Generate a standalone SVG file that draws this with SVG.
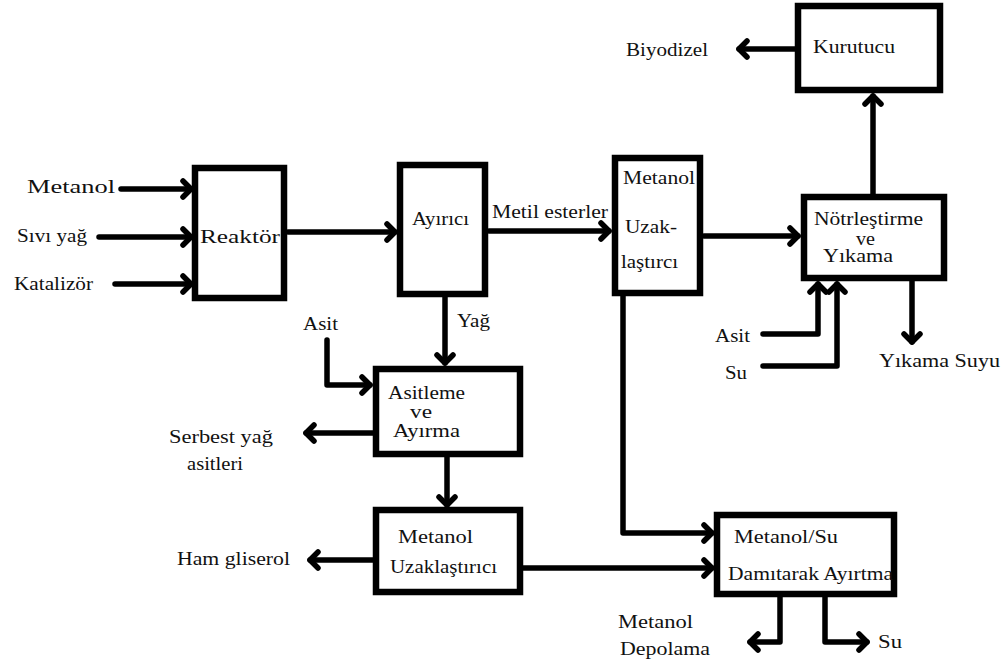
<svg xmlns="http://www.w3.org/2000/svg" width="1005" height="666" viewBox="0 0 1005 666" font-family="'Liberation Serif', 'DejaVu Serif', serif">
<style>
text{font-family:'Liberation Serif','DejaVu Serif',serif;font-size:19px;fill:#111}
.box{fill:#fff;stroke:#000;stroke-width:6.5}
.ln{fill:none;stroke:#000;stroke-width:5.5;stroke-linecap:round;stroke-linejoin:round}
.ar{marker-end:url(#a)}
</style>
<defs>
<marker id="a" markerUnits="userSpaceOnUse" markerWidth="30" markerHeight="30" viewBox="-15 -15 30 30" refX="0" refY="0" orient="auto" overflow="visible">
<path d="M-8,-8 L0,0 L-8,8" fill="none" stroke="#000" stroke-width="5.5" stroke-linecap="round" stroke-linejoin="round"/>
</marker>
</defs>
<rect width="1005" height="666" fill="#fff"/>
<g id="connectors">
<path class="ln ar" d="M121,189 H191"/>
<path class="ln ar" d="M99,237 H191"/>
<path class="ln ar" d="M115,284 H191"/>
<path class="ln ar" d="M288,232 H395"/>
<path class="ln ar" d="M489,231 H609"/>
<path class="ln ar" d="M704,236 H798"/>
<path class="ln ar" d="M873,194 V96"/>
<path class="ln ar" d="M795,49 H739"/>
<path class="ln ar" d="M763,334 H818 V284"/>
<path class="ln ar" d="M763,366 H837 V284"/>
<path class="ln ar" d="M912,281 V342"/>
<path class="ln ar" d="M623,296 V533 H712"/>
<path class="ln ar" d="M445,297 V363"/>
<path class="ln ar" d="M327,340 V385 H370"/>
<path class="ln ar" d="M373,433 H306"/>
<path class="ln ar" d="M447,457 V505"/>
<path class="ln ar" d="M373,560 H310"/>
<path class="ln ar" d="M523,568 H712"/>
<path class="ln ar" d="M780,597 V642 H750"/>
<path class="ln ar" d="M825,597 V642 H867"/>
</g>
<g id="inputs">
<text x="27" y="193" textLength="88" lengthAdjust="spacingAndGlyphs">Metanol</text>
<text x="17" y="242" textLength="70" lengthAdjust="spacingAndGlyphs">Sıvı yağ</text>
<text x="14" y="290" textLength="79" lengthAdjust="spacingAndGlyphs">Katalizör</text>
</g>
<g id="reaktor">
<rect class="box" x="195" y="168" width="89" height="130"/>
<text x="200" y="243" textLength="80" lengthAdjust="spacingAndGlyphs">Reaktör</text>
</g>
<g id="ayirici">
<rect class="box" x="400" y="165" width="85" height="129"/>
<text x="412" y="225" textLength="57" lengthAdjust="spacingAndGlyphs">Ayırıcı</text>
</g>
<text id="lbl-metil" x="492" y="218" textLength="116" lengthAdjust="spacingAndGlyphs">Metil esterler</text>
<g id="metanol-uzak1">
<rect class="box" x="615" y="158" width="85" height="135"/>
<text x="623" y="184" textLength="72" lengthAdjust="spacingAndGlyphs">Metanol</text>
<text x="625" y="233" textLength="52" lengthAdjust="spacingAndGlyphs">Uzak-</text>
<text x="621" y="268" textLength="57" lengthAdjust="spacingAndGlyphs">laştırcı</text>
</g>
<g id="notr">
<rect class="box" x="804" y="197" width="140" height="81"/>
<text x="814" y="225" textLength="109" lengthAdjust="spacingAndGlyphs">Nötrleştirme</text>
<text x="856" y="245" textLength="19" lengthAdjust="spacingAndGlyphs">ve</text>
<text x="823" y="262" textLength="70" lengthAdjust="spacingAndGlyphs">Yıkama</text>
</g>
<g id="kurutucu">
<rect class="box" x="798" y="6" width="142" height="84"/>
<text x="813" y="53" textLength="82" lengthAdjust="spacingAndGlyphs">Kurutucu</text>
</g>
<text id="biyodizel" x="626" y="56" textLength="82" lengthAdjust="spacingAndGlyphs">Biyodizel</text>
<text id="asit2" x="715" y="342" textLength="35" lengthAdjust="spacingAndGlyphs">Asit</text>
<text id="su1" x="725" y="379" textLength="22" lengthAdjust="spacingAndGlyphs">Su</text>
<text id="yikama-suyu" x="879" y="367" textLength="121" lengthAdjust="spacingAndGlyphs">Yıkama Suyu</text>
<text id="yag" x="457" y="327" textLength="33" lengthAdjust="spacingAndGlyphs">Yağ</text>
<text id="asit1" x="303" y="330" textLength="35" lengthAdjust="spacingAndGlyphs">Asit</text>
<g id="asitleme">
<rect class="box" x="376" y="369" width="144" height="85"/>
<text x="388" y="399" textLength="77" lengthAdjust="spacingAndGlyphs">Asitleme</text>
<text x="410" y="418" textLength="22" lengthAdjust="spacingAndGlyphs">ve</text>
<text x="393" y="437" textLength="67" lengthAdjust="spacingAndGlyphs">Ayırma</text>
</g>
<g id="serbest">
<text x="169" y="443" textLength="104" lengthAdjust="spacingAndGlyphs">Serbest yağ</text>
<text x="187" y="470" textLength="56" lengthAdjust="spacingAndGlyphs">asitleri</text>
</g>
<g id="metanol-uzak2">
<rect class="box" x="376" y="510" width="144" height="82"/>
<text x="398" y="543" textLength="75" lengthAdjust="spacingAndGlyphs">Metanol</text>
<text x="390" y="573" textLength="107" lengthAdjust="spacingAndGlyphs">Uzaklaştırıcı</text>
</g>
<text id="ham" x="177" y="565" textLength="113" lengthAdjust="spacingAndGlyphs">Ham gliserol</text>
<g id="metanol-su">
<rect class="box" x="717" y="515" width="177" height="79"/>
<text x="734" y="543" textLength="104" lengthAdjust="spacingAndGlyphs">Metanol/Su</text>
<text x="728" y="580" textLength="165" lengthAdjust="spacingAndGlyphs">Damıtarak Ayırtma</text>
</g>
<g id="depolama">
<text x="618" y="628" textLength="75" lengthAdjust="spacingAndGlyphs">Metanol</text>
<text x="620" y="655" textLength="90" lengthAdjust="spacingAndGlyphs">Depolama</text>
</g>
<text id="su2" x="878" y="648" textLength="24" lengthAdjust="spacingAndGlyphs">Su</text>
</svg>
